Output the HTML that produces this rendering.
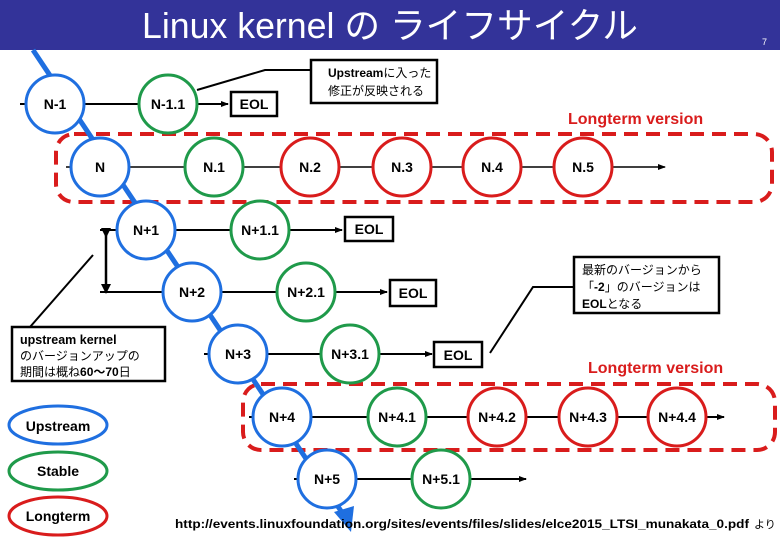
<!DOCTYPE html>
<html><head><meta charset="utf-8"><style>
body{margin:0;background:#fff}
svg{display:block}
text{font-family:"Liberation Sans","Noto Sans CJK JP",sans-serif}
.n{font-weight:bold;font-size:14px;text-anchor:middle;dominant-baseline:central}
</style></head><body>
<svg width="780" height="540" viewBox="0 0 780 540" xmlns="http://www.w3.org/2000/svg">
<defs><marker id="a" markerWidth="8" markerHeight="8" refX="7" refY="4" orient="auto" markerUnits="userSpaceOnUse"><path d="M0,1 L8,4 L0,7z" fill="#000"/></marker>
<marker id="b" markerWidth="10" markerHeight="10" refX="5" refY="5" orient="auto" markerUnits="userSpaceOnUse"><path d="M0,0 L10,5 L0,10z" fill="#000"/></marker></defs>
<rect x="0" y="0" width="780" height="50" fill="#333399"/>
<text x="390" y="38" fill="#fff" font-size="36" text-anchor="middle" textLength="496" lengthAdjust="spacingAndGlyphs">Linux kernel の ライフサイクル</text>
<text x="762" y="45" fill="#fff" font-size="9">7</text>
<rect x="56" y="134" width="716" height="68" rx="18" fill="none" stroke="#d91c1c" stroke-width="4" stroke-dasharray="14,8"/>
<rect x="243" y="384" width="532" height="66" rx="18" fill="none" stroke="#d91c1c" stroke-width="4" stroke-dasharray="14,8"/>
<text x="568" y="124" fill="#d91c1c" font-weight="bold" font-size="16">Longterm version</text>
<text x="588" y="373" fill="#d91c1c" font-weight="bold" font-size="16">Longterm version</text>
<path d="M33,50 L347,520" stroke="#1f6fe0" stroke-width="5"/>
<path d="M334,512 L354,506 L351,532z" fill="#1f6fe0"/>
<g stroke="#000" stroke-width="2" fill="none">
<line x1="20" y1="104" x2="228" y2="104" marker-end="url(#a)"/>
<line x1="66" y1="167" x2="665" y2="167" stroke-width="1.5" marker-end="url(#a)"/>
<line x1="100" y1="230" x2="342" y2="230" marker-end="url(#a)"/>
<line x1="100" y1="292" x2="387" y2="292" marker-end="url(#a)"/>
<line x1="204" y1="354" x2="432" y2="354" marker-end="url(#a)"/>
<line x1="249" y1="417" x2="724" y2="417" marker-end="url(#a)"/>
<line x1="294" y1="479" x2="526" y2="479" marker-end="url(#a)"/>
<line x1="106" y1="233" x2="106" y2="289" stroke-width="2.5" marker-start="url(#b)" marker-end="url(#b)"/>
<path d="M197,90 L265,70 L311,70"/>
<path d="M93,255 L30,327"/>
<path d="M574,287 L533,287 L490,353"/>
</g>
<g stroke-width="3" fill="#fff">
<g stroke="#1f6fe0">
<circle cx="55" cy="104" r="29"/><circle cx="100" cy="167" r="29"/><circle cx="146" cy="230" r="29"/>
<circle cx="192" cy="292" r="29"/><circle cx="238" cy="354" r="29"/><circle cx="282" cy="417" r="29"/><circle cx="327" cy="479" r="29"/>
</g>
<g stroke="#1f9a4a">
<circle cx="168" cy="104" r="29"/><circle cx="214" cy="167" r="29"/><circle cx="260" cy="230" r="29"/>
<circle cx="306" cy="292" r="29"/><circle cx="350" cy="354" r="29"/><circle cx="397" cy="417" r="29"/><circle cx="441" cy="479" r="29"/>
</g>
<g stroke="#d91c1c">
<circle cx="310" cy="167" r="29"/><circle cx="402" cy="167" r="29"/><circle cx="492" cy="167" r="29"/><circle cx="583" cy="167" r="29"/>
<circle cx="497" cy="417" r="29"/><circle cx="588" cy="417" r="29"/><circle cx="677" cy="417" r="29"/>
</g>
</g>
<g class="n">
<text class="n" x="55" y="104">N-1</text><text class="n" x="168" y="104">N-1.1</text>
<text class="n" x="100" y="167">N</text><text class="n" x="214" y="167">N.1</text><text class="n" x="310" y="167">N.2</text><text class="n" x="402" y="167">N.3</text><text class="n" x="492" y="167">N.4</text><text class="n" x="583" y="167">N.5</text>
<text class="n" x="146" y="230">N+1</text><text class="n" x="260" y="230">N+1.1</text>
<text class="n" x="192" y="292">N+2</text><text class="n" x="306" y="292">N+2.1</text>
<text class="n" x="238" y="354">N+3</text><text class="n" x="350" y="354">N+3.1</text>
<text class="n" x="282" y="417">N+4</text><text class="n" x="397" y="417">N+4.1</text><text class="n" x="497" y="417">N+4.2</text><text class="n" x="588" y="417">N+4.3</text><text class="n" x="677" y="417">N+4.4</text>
<text class="n" x="327" y="479">N+5</text><text class="n" x="441" y="479">N+5.1</text>
</g>
<g fill="#fff" stroke="#000" stroke-width="2.5">
<rect x="231" y="92" width="46" height="24"/><rect x="345" y="217" width="48" height="24"/>
<rect x="390" y="280" width="46" height="26"/><rect x="434" y="342" width="48" height="25"/>
<rect x="311" y="60" width="126" height="43"/><rect x="12" y="327" width="153" height="54"/>
<rect x="574" y="257" width="145" height="56"/>
</g>
<g class="n" font-size="13">
<text class="n" x="254" y="104" font-size="13">EOL</text><text class="n" x="369" y="229" font-size="13">EOL</text>
<text class="n" x="413" y="293" font-size="13">EOL</text><text class="n" x="458" y="355" font-size="13">EOL</text>
</g>
<g font-size="12">
<text x="328" y="77" font-weight="bold">Upstream<tspan font-weight="normal">に入った</tspan></text>
<text x="328" y="95">修正が反映される</text>
<text x="20" y="344" font-weight="bold" font-size="12.5">upstream kernel</text>
<text x="20" y="360">のバージョンアップの</text>
<text x="20" y="376">期間は概ね<tspan font-weight="bold">60～70</tspan>日</text>
<text x="582" y="274">最新のバージョンから</text>
<text x="582" y="291">「<tspan font-weight="bold">-2</tspan>」のバージョンは</text>
<text x="582" y="308"><tspan font-weight="bold">EOL</tspan>となる</text>
</g>
<g fill="#fff" stroke-width="3">
<ellipse cx="58" cy="425" rx="49" ry="19" stroke="#1f6fe0"/>
<ellipse cx="58" cy="471" rx="49" ry="19" stroke="#1f9a4a"/>
<ellipse cx="58" cy="516" rx="49" ry="19" stroke="#d91c1c"/>
</g>
<text class="n" x="58" y="426" font-size="15">Upstream</text>
<text class="n" x="58" y="471" font-size="15">Stable</text>
<text class="n" x="58" y="516" font-size="15">Longterm</text>
<text x="175" y="528" font-size="11.5" font-weight="bold" textLength="574" lengthAdjust="spacingAndGlyphs">http://events.linuxfoundation.org/sites/events/files/slides/elce2015_LTSI_munakata_0.pdf</text>
<text x="754" y="528" font-size="11">より</text>
</svg>
</body></html>
